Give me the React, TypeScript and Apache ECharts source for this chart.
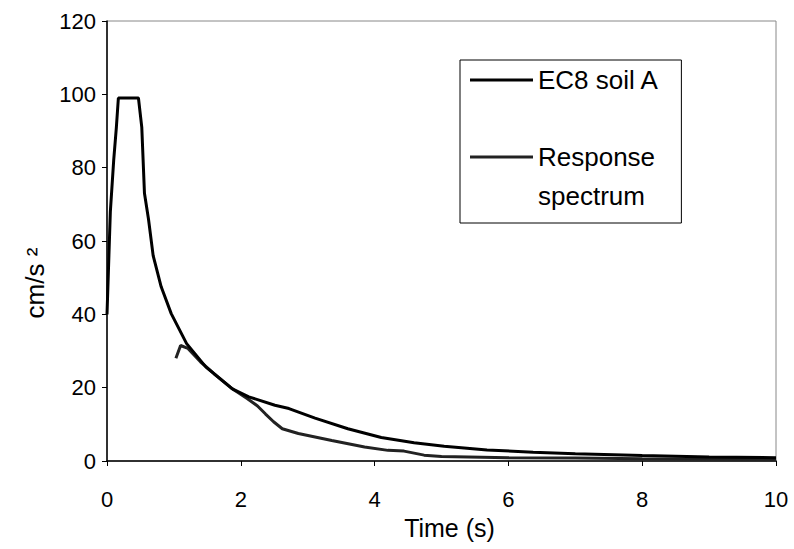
import React, { useEffect, useRef } from "react";
import * as echarts from "echarts";

const xTicks = [0, 2, 4, 6, 8, 10];
const yTicks = [0, 20, 40, 60, 80, 100, 120];

const ec8Time = [0, 0.05, 0.1, 0.14, 0.17, 0.47, 0.52, 0.56, 0.62, 0.69, 0.81, 0.96, 1.19, 1.48, 1.88, 2.12, 2.51, 2.72, 3.11, 3.6, 4.1, 4.59, 5.04, 5.68, 6.37, 7.0, 8.0, 9.0, 10.0];
const ec8Acc = [40, 68, 82, 91, 99, 99, 91, 73, 66, 56, 47.5, 40.2, 32, 25.6, 19.6, 17.5, 15.2, 14.3, 11.7, 8.8, 6.4, 5.0, 4.0, 3.0, 2.4, 2.0, 1.5, 1.1, 0.9];

const respTime = [1.03, 1.1, 1.21, 1.4, 1.6, 1.85, 2.1, 2.25, 2.37, 2.49, 2.62, 2.86, 3.36, 3.85, 4.2, 4.44, 4.74, 5.0, 6.0, 7.0, 8.0, 9.0, 10.0];
const respAcc = [28, 31.5, 30.7, 27, 23.8, 20, 17, 15, 12.8, 10.7, 8.8, 7.5, 5.6, 3.8, 2.9, 2.7, 1.6, 1.2, 0.9, 0.8, 0.6, 0.5, 0.4];

const seriesNames = ["EC8 soil A", "Response spectrum"];
const FONT = "Liberation Sans, Arial, sans-serif";

export default function App() {
  const ref = useRef<HTMLDivElement>(null);
  useEffect(() => {
    if (!ref.current) return;
    const chart = echarts.init(ref.current, undefined, { renderer: "svg" });
    const ec8 = ec8Time.map((t, i) => [t, ec8Acc[i]]);
    const resp = respTime.map((t, i) => [t, respAcc[i]]);
    chart.setOption({
      animation: false,
      backgroundColor: "#fff",
      grid: {
        left: 107,
        top: 21,
        right: 18,
        bottom: 88,
        show: true,
        borderColor: "#888",
        borderWidth: 1,
      },
      xAxis: {
        type: "value",
        min: xTicks[0],
        max: xTicks[xTicks.length - 1],
        interval: 2,
        name: "Time (s)",
        nameLocation: "middle",
        nameGap: 54,
        nameTextStyle: { fontFamily: FONT, fontSize: 25, color: "#000", padding: [0, 0, 0, 16] },
        axisLine: { lineStyle: { color: "#000", width: 1.5 } },
        axisTick: { show: true, length: 5, lineStyle: { color: "#000" } },
        axisLabel: { fontFamily: FONT, fontSize: 22, color: "#000", margin: 27 },
        splitLine: { show: false },
      },
      yAxis: {
        type: "value",
        min: yTicks[0],
        max: yTicks[yTicks.length - 1],
        interval: 20,
        name: "cm/s \u00b2",
        nameLocation: "middle",
        nameRotate: 90,
        nameGap: 54,
        nameTextStyle: { fontFamily: FONT, fontSize: 26, color: "#000", padding: [0, 84, 0, 0] },
        axisLine: { show: true, lineStyle: { color: "#000", width: 1.5 } },
        axisTick: { show: true, length: 5, lineStyle: { color: "#000" } },
        axisLabel: { fontFamily: FONT, fontSize: 22, color: "#000", margin: 11 },
        splitLine: { show: false },
      },
      legend: {
        orient: "vertical",
        left: 460,
        top: 60,
        padding: [7, 22, 14, 10],
        borderColor: "#000",
        borderWidth: 1,
        backgroundColor: "#fff",
        itemWidth: 63,
        itemHeight: 3,
        itemGap: 12,
        icon: "rect",
        textStyle: {
          fontFamily: FONT,
          fontSize: 26,
          color: "#000",
          rich: {
            a: { fontFamily: FONT, fontSize: 26, lineHeight: 31, color: "#000" },
            b: { fontFamily: FONT, fontSize: 26, lineHeight: 39, color: "#000" },
          },
        },
        formatter: (name: string) =>
          name === seriesNames[1]
            ? "{b|\u00a0}\n{b|Response}\n{b|spectrum}"
            : "{a|" + name + "}",
        data: seriesNames,
      },
      series: [
        {
          name: seriesNames[0],
          type: "line",
          data: ec8,
          showSymbol: false,
          symbol: "none",
          lineStyle: { color: "#000", width: 3 },
          itemStyle: { color: "#000" },
          z: 3,
        },
        {
          name: seriesNames[1],
          type: "line",
          data: resp,
          showSymbol: false,
          symbol: "none",
          lineStyle: { color: "#222", width: 3 },
          itemStyle: { color: "#222" },
          z: 2,
        },
      ],
    });
    return () => chart.dispose();
  }, []);
  return <div ref={ref} style={{ width: 794, height: 549, position: "absolute", left: 0, top: 0 }} />;
}
